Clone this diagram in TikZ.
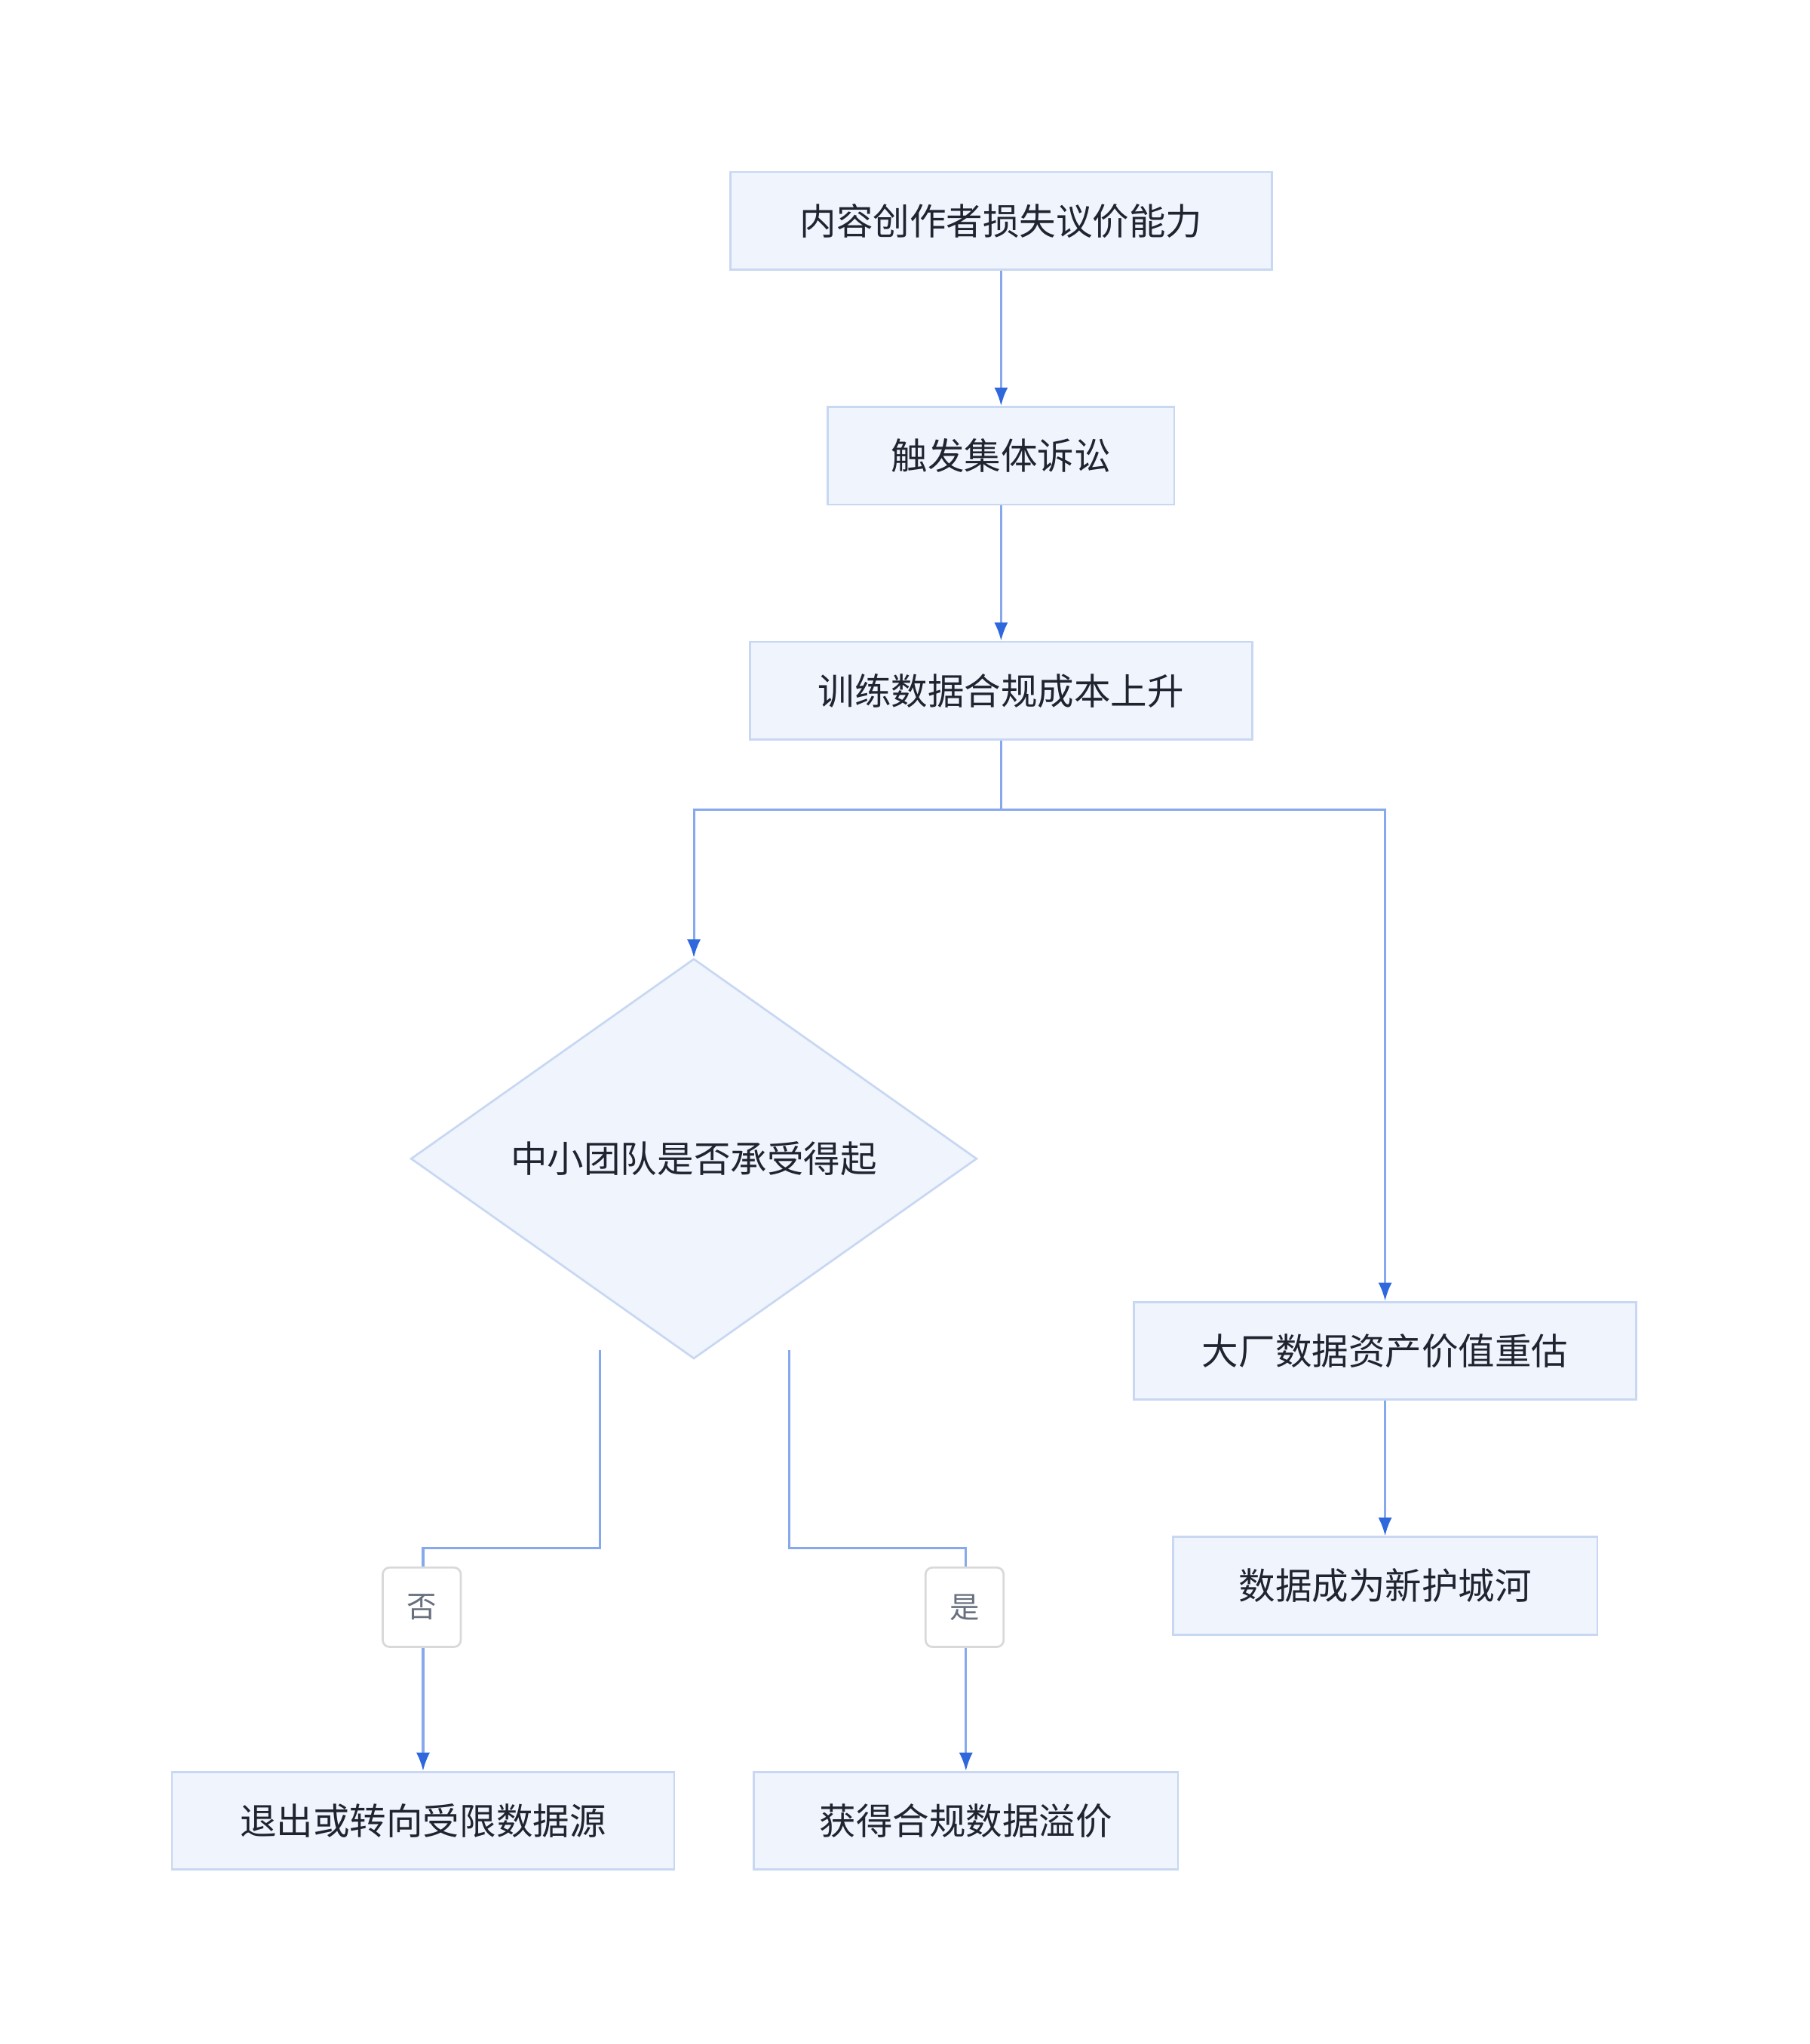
\documentclass[tikz,border=0pt]{standalone}
\usepackage{fontspec}
\setmainfont{Noto Sans CJK SC}
\usetikzlibrary{shapes.geometric,arrows.meta}
\definecolor{boxfill}{HTML}{EFF4FD}
\definecolor{boxline}{HTML}{C8D8F2}
\definecolor{linkc}{HTML}{86A9EE}
\definecolor{tipc}{HTML}{2F68DD}
\definecolor{txtc}{HTML}{1F2430}
\definecolor{lblc}{HTML}{66707E}
\tikzset{
  stage/.style={draw=boxline, fill=boxfill, line width=0.9pt, minimum height=1.5cm,
    inner sep=0pt, text=txtc, font=\fontsize{16pt}{18pt}\selectfont},
  choice/.style={diamond, draw=boxline, fill=boxfill, line width=0.9pt, aspect=1,
    minimum width=8.7cm, inner sep=0pt, text=txtc, font=\fontsize{16pt}{18pt}\selectfont},
  tag/.style={draw=black!15, fill=white, rounded corners=3pt, line width=0.9pt,
    minimum width=1.2cm, minimum height=1.22cm, text=lblc, font=\fontsize{13pt}{15pt}\selectfont},
  link/.style={draw=linkc, line width=1pt, -{Latex[length=8pt,width=6pt,color=tipc]}},
  plain/.style={draw=linkc, line width=1pt}
}
\begin{document}
\begin{tikzpicture}[x=0.02cm, y=-0.02cm]
\useasboundingbox (0,0) rectangle (1390,1570);
% boxes
\node[stage, minimum width=8.32cm] (loss) at (769,169.5) {内容创作者损失议价能力};
\node[stage, minimum width=5.32cm] (suit) at (769,350) {触发集体诉讼};
\node[stage, minimum width=7.72cm] (cost) at (769,530.5) {训练数据合规成本上升};
\node[choice] (afford) at (533,890) {中小团队是否承受得起};
\node[stage, minimum width=7.72cm] (bigco) at (1064,1037.5) {大厂数据资产价值重估};
\node[stage, minimum width=6.52cm] (moat) at (1064,1218) {数据成为新护城河};
\node[stage, minimum width=7.72cm] (quit) at (325,1398.5) {退出或转向受限数据源};
\node[stage, minimum width=6.52cm] (prem) at (742,1398.5) {获得合规数据溢价};
% branch points on the diamond
\coordinate (noout) at (461,1037);
\coordinate (yesout) at (606,1037);
% connectors
\draw[link] (loss) -- (suit);
\draw[link] (suit) -- (cost);
\draw[link] (cost.south) -- ++(0,53) -| (afford.north);
\draw[link] (cost.south) -- ++(0,53) -| (bigco.north);
\draw[link] (bigco) -- (moat);
\draw[plain] (noout) -- (461,1189) -| (325,1234);
\draw[link] (325,1234) -- (quit.north);
\draw[plain] (yesout) -- (606,1189) -| (742,1234);
\draw[link] (742,1234) -- (prem.north);
% labels
\node[tag] (no) at (324,1234.5) {否};
\node[tag] (yes) at (741,1234.5) {是};
\end{tikzpicture}
\end{document}
